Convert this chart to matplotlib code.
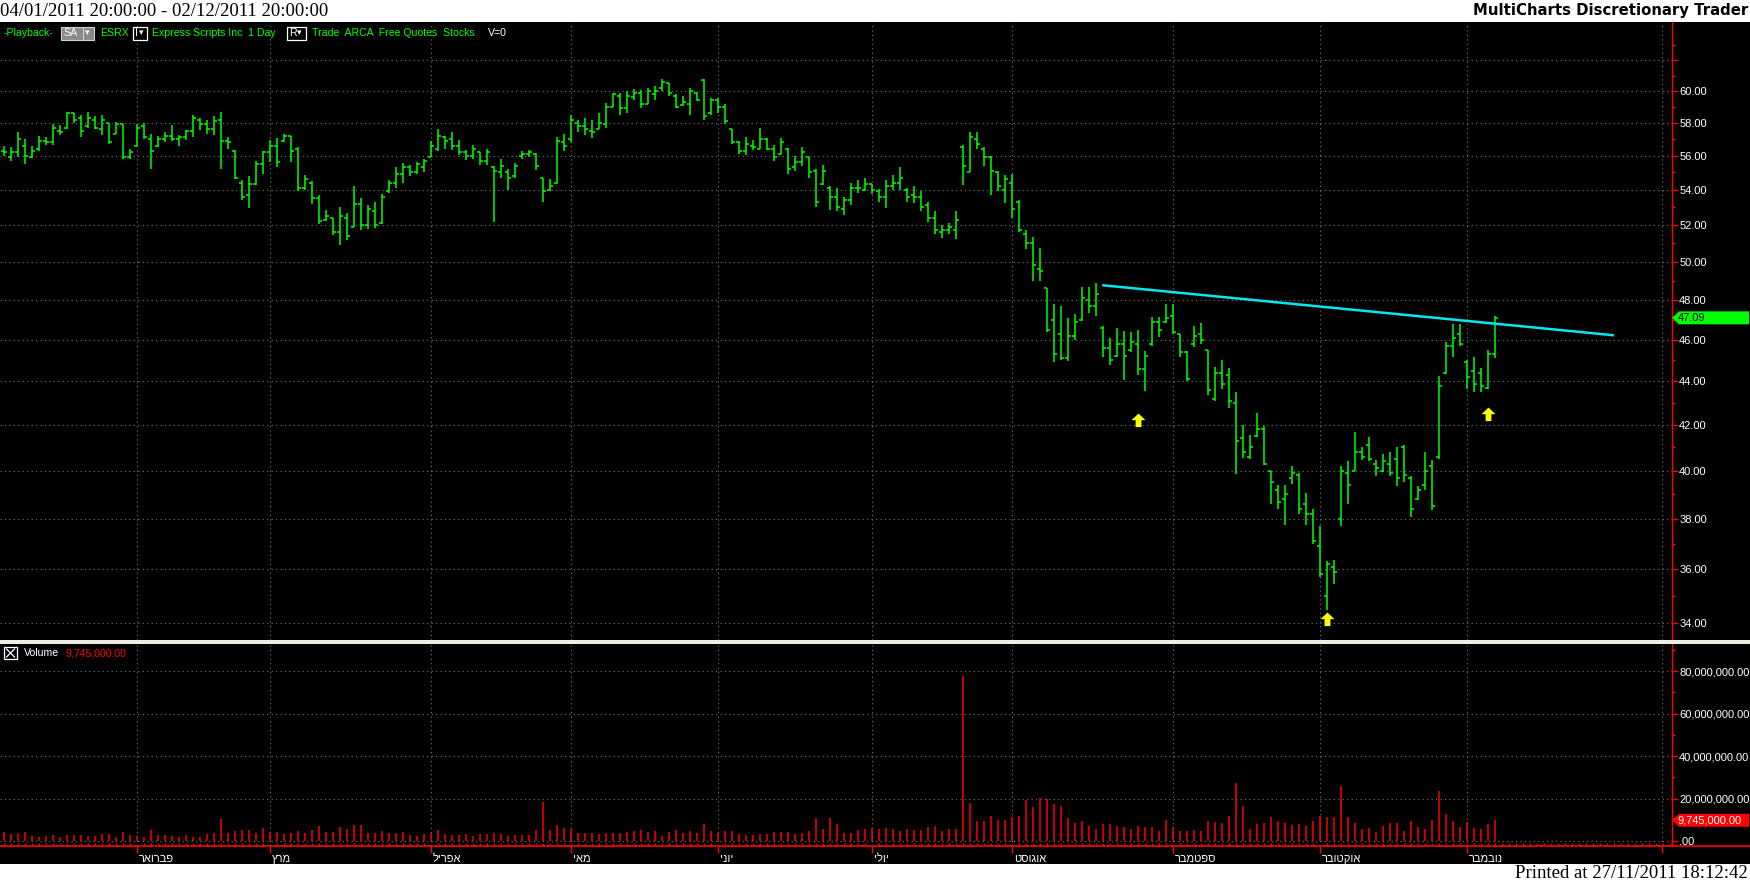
"""ESRX daily bars 2011 with volume pane, redrawn in the MultiCharts print layout."""

import numpy as np
import matplotlib
matplotlib.use("Agg")
import matplotlib.pyplot as plt
from matplotlib.patches import Rectangle, Polygon
from matplotlib.path import Path
from matplotlib.lines import Line2D
from matplotlib.ticker import FixedLocator, FuncFormatter, NullFormatter
from matplotlib.transforms import IdentityTransform, ScaledTranslation

plt.rcParams["font.family"] = ["Liberation Sans", "DejaVu Sans"]

W, H = 1750, 884

# --- daily bars, 04/01/2011 .. 07/11/2011 ---
highs = [
    56.6, 56.5, 57.4, 57.0, 56.6, 57.2, 57.1, 57.9, 57.85, 58.7,
    58.6, 58.5, 58.7, 58.4, 58.5, 58.0, 58.05, 57.9, 56.4, 57.9,
    58.0, 57.3, 57.2, 57.45, 57.85, 57.25, 57.55, 58.5, 58.3, 58.2,
    58.45, 58.7, 57.1, 56.35, 54.55, 54.8, 55.65, 56.25, 56.95, 57.05,
    57.3, 57.2, 56.5, 54.85, 54.5, 53.7, 52.85, 52.4, 53.0, 52.65,
    54.2, 53.5, 53.15, 53.3, 53.75, 54.55, 55.3, 55.55, 55.45, 55.6,
    55.8, 56.9, 57.6, 57.2, 57.4, 56.95, 56.35, 56.65, 56.2, 56.4,
    55.4, 55.8, 55.2, 55.55, 56.3, 56.35, 56.15, 54.7, 54.6, 57.1,
    57.3, 58.5, 58.2, 58.3, 58.15, 58.6, 59.25, 59.9, 59.9, 60.0,
    60.1, 60.05, 60.2, 60.35, 60.75, 60.5, 59.8, 59.65, 60.2, 59.95,
    60.8, 59.55, 59.55, 59.15, 57.6, 56.9, 57.1, 56.95, 57.7, 57.05,
    56.65, 57.05, 56.45, 56.0, 56.5, 55.9, 55.2, 55.45, 54.2, 54.1,
    53.6, 54.4, 54.55, 54.7, 54.3, 54.05, 54.55, 54.85, 55.3, 54.1,
    54.2, 53.9, 53.3, 52.8, 52.0, 52.1, 52.8, 56.65, 57.4, 57.4,
    56.5, 56.0, 55.1, 54.85, 54.9, 53.4, 51.7, 51.35, 50.75, 48.6,
    47.8, 47.7, 47.1, 47.3, 48.65, 48.65, 48.9, 46.7, 46.1, 46.6,
    46.45, 46.4, 46.5, 45.45, 47.15, 47.15, 47.8, 47.8, 46.3, 45.45,
    46.7, 46.85, 45.5, 44.7, 45.0, 44.65, 43.5, 42.0, 41.55, 42.55,
    41.95, 40.0, 39.4, 39.4, 40.2, 39.9, 39.05, 38.4, 37.7, 36.3,
    36.35, 40.2, 40.4, 41.7, 41.0, 41.45, 40.45, 40.7, 40.8, 41.0,
    41.1, 39.75, 39.35, 40.8, 40.45, 44.25, 45.9, 46.8, 46.8, 45.0,
    45.15, 44.65, 45.5, 47.2,
]
lows = [
    56.0, 55.7, 55.9, 55.5, 55.85, 56.3, 56.65, 56.65, 57.25, 57.6,
    58.0, 57.1, 57.7, 57.6, 57.25, 56.7, 57.3, 55.8, 55.8, 56.6,
    57.0, 55.2, 56.5, 56.8, 56.9, 56.6, 56.95, 57.1, 57.55, 57.3,
    57.25, 55.2, 56.4, 54.6, 53.4, 52.95, 54.25, 54.9, 55.6, 55.35,
    56.8, 55.6, 53.9, 54.0, 53.2, 52.05, 52.2, 51.45, 50.9, 51.2,
    51.9, 51.7, 51.8, 51.85, 52.05, 53.8, 54.1, 54.4, 54.8, 54.9,
    55.0, 55.9, 56.3, 56.4, 56.35, 56.05, 55.75, 55.8, 55.45, 55.45,
    52.15, 54.7, 54.0, 54.7, 55.8, 55.9, 55.15, 53.3, 53.9, 54.3,
    56.3, 56.85, 57.4, 57.25, 57.05, 57.6, 57.7, 59.0, 58.5, 58.6,
    59.4, 58.9, 59.15, 59.4, 60.0, 59.65, 58.9, 59.05, 58.5, 59.35,
    58.15, 58.5, 58.6, 57.9, 56.7, 56.1, 56.05, 56.35, 56.4, 56.35,
    55.65, 56.1, 54.9, 55.1, 55.4, 54.7, 53.0, 54.25, 52.85, 52.8,
    52.55, 53.15, 53.8, 53.9, 53.75, 53.3, 52.95, 54.0, 54.0, 53.3,
    53.25, 52.8, 52.15, 51.5, 51.3, 51.5, 51.25, 54.25, 55.0, 56.4,
    55.4, 53.7, 53.9, 53.25, 52.4, 51.6, 50.7, 49.0, 49.0, 46.4,
    44.9, 45.0, 44.95, 46.0, 46.95, 47.35, 47.2, 45.15, 44.8, 45.15,
    44.05, 45.4, 44.3, 43.55, 45.7, 46.15, 46.85, 46.3, 45.15, 44.0,
    45.65, 45.8, 43.35, 43.1, 43.65, 42.75, 39.85, 40.55, 40.5, 41.45,
    40.25, 38.6, 38.4, 37.75, 39.45, 38.2, 37.75, 37.0, 35.7, 34.45,
    35.45, 37.7, 38.6, 40.0, 40.45, 40.4, 39.75, 39.95, 39.75, 39.35,
    39.5, 38.05, 38.75, 39.2, 38.35, 40.5, 44.35, 45.15, 45.7, 43.65,
    43.5, 43.5, 43.65, 45.1,
]
opens = [
    56.3, 55.9, 56.2, 56.6, 55.9, 56.4, 56.9, 56.8, 57.5, 57.7,
    58.6, 58.3, 57.8, 58.2, 57.6, 58.0, 57.3, 57.9, 55.9, 56.6,
    57.8, 57.0, 56.6, 57.0, 57.2, 57.0, 57.1, 57.5, 58.2, 57.9,
    57.6, 58.2, 56.9, 56.3, 54.4, 53.7, 54.3, 55.5, 56.2, 56.6,
    56.9, 57.2, 56.4, 54.1, 54.4, 53.5, 52.3, 52.4, 51.6, 52.4,
    51.9, 53.2, 52.0, 52.8, 52.1, 53.9, 54.4, 54.9, 55.3, 55.0,
    55.3, 55.9, 56.4, 57.1, 57.0, 56.6, 56.2, 56.0, 56.2, 55.7,
    55.3, 55.0, 55.0, 54.8, 56.0, 56.1, 56.1, 54.7, 54.0, 54.4,
    56.8, 57.0, 58.0, 57.8, 57.5, 57.6, 57.9, 59.0, 59.7, 58.9,
    59.6, 59.9, 59.2, 59.8, 60.2, 60.5, 59.7, 59.1, 59.2, 59.9,
    60.7, 58.6, 59.4, 59.0, 57.6, 56.8, 56.3, 56.6, 56.4, 57.0,
    56.4, 56.1, 56.4, 55.3, 55.6, 55.9, 55.1, 54.3, 54.1, 53.6,
    52.9, 53.4, 54.1, 54.0, 54.3, 53.9, 53.6, 54.2, 54.4, 54.0,
    53.7, 53.6, 53.1, 52.4, 51.6, 51.7, 51.7, 56.5, 55.0, 57.0,
    56.4, 55.9, 55.0, 54.0, 54.4, 53.3, 51.5, 51.0, 49.6, 48.6,
    47.0, 46.3, 45.1, 46.2, 47.0, 48.0, 47.7, 46.6, 45.6, 45.2,
    45.8, 45.5, 45.8, 44.6, 45.8, 46.9, 46.9, 47.2, 46.3, 45.4,
    45.8, 46.3, 45.5, 43.2, 44.4, 44.3, 43.0, 41.4, 40.6, 41.5,
    41.8, 40.0, 39.2, 38.8, 39.7, 39.8, 38.6, 38.2, 36.9, 35.0,
    36.1, 38.0, 39.9, 40.0, 40.8, 41.1, 40.3, 40.0, 40.3, 40.5,
    41.0, 39.7, 38.8, 39.4, 40.2, 40.6, 44.4, 45.7, 46.3, 44.9,
    44.5, 44.4, 43.7, 45.3,
]
closes = [
    56.2, 56.2, 57.0, 56.0, 56.3, 56.9, 56.8, 57.7, 57.4, 58.6,
    58.2, 57.5, 58.3, 57.7, 58.2, 56.8, 57.9, 55.9, 56.2, 57.7,
    57.1, 56.3, 57.0, 57.2, 57.0, 57.1, 57.5, 58.3, 57.9, 57.6,
    58.1, 56.9, 56.8, 54.7, 53.6, 54.3, 55.5, 56.2, 56.6, 55.6,
    57.2, 56.3, 54.1, 54.6, 53.5, 52.2, 52.5, 51.6, 52.5, 51.4,
    53.2, 52.0, 52.9, 52.0, 53.6, 54.4, 54.9, 55.3, 55.0, 55.5,
    55.7, 56.6, 57.2, 56.9, 56.6, 56.2, 56.0, 56.4, 55.7, 56.2,
    55.1, 55.4, 54.7, 55.4, 56.1, 56.2, 55.4, 53.9, 54.2, 56.9,
    56.6, 58.2, 57.8, 57.6, 57.4, 58.0, 59.0, 59.8, 58.9, 59.7,
    59.9, 59.2, 60.0, 60.0, 60.6, 59.9, 59.0, 59.3, 60.0, 59.4,
    58.4, 59.4, 59.0, 58.1, 56.8, 56.3, 56.7, 56.5, 57.0, 56.4,
    55.9, 56.8, 55.2, 55.6, 56.2, 55.0, 53.3, 55.1, 53.6, 53.0,
    53.4, 54.1, 54.1, 54.3, 54.0, 53.6, 54.2, 54.4, 54.7, 53.6,
    53.6, 53.0, 52.4, 51.7, 51.7, 51.9, 52.3, 55.4, 57.1, 56.7,
    55.9, 55.1, 54.2, 54.6, 52.9, 51.7, 51.0, 49.8, 49.5, 46.5,
    45.3, 45.1, 46.2, 46.9, 48.1, 47.7, 48.3, 45.6, 45.0, 45.8,
    45.2, 45.9, 44.6, 45.2, 46.9, 46.5, 47.1, 46.4, 45.4, 44.1,
    46.2, 46.0, 43.6, 44.4, 43.9, 43.1, 41.3, 40.8, 41.0, 41.8,
    40.3, 39.5, 38.7, 39.0, 39.9, 38.4, 38.2, 37.1, 35.8, 36.2,
    35.9, 40.0, 39.4, 40.8, 40.6, 40.5, 40.1, 40.4, 39.9, 39.7,
    39.8, 38.4, 39.2, 40.0, 38.5, 43.8, 45.7, 46.1, 45.8, 44.2,
    43.9, 43.8, 45.3, 47.09,
]
# volume in millions of shares
volume_m = [
    4.4, 3.5, 3.9, 4.2, 2.4, 1.9, 2.4, 2.8, 1.7, 2.8,
    3.0, 2.8, 2.4, 2.4, 3.3, 3.3, 1.9, 4.2, 2.8, 2.5,
    1.9, 5.2, 2.8, 2.8, 2.4, 1.9, 2.8, 1.9, 1.9, 3.3,
    3.9, 10.4, 3.9, 4.7, 5.2, 5.2, 3.9, 6.1, 4.1, 4.2,
    3.3, 3.9, 4.7, 3.9, 5.2, 7.1, 4.2, 4.2, 6.6, 5.6,
    7.3, 7.6, 3.8, 3.9, 4.7, 3.9, 3.9, 4.4, 2.8, 2.5,
    3.5, 3.9, 5.3, 3.3, 2.8, 2.8, 3.1, 2.4, 3.5, 3.3,
    3.6, 3.1, 2.4, 2.9, 2.9, 2.9, 5.3, 18.5, 5.3, 7.7,
    6.0, 5.8, 3.6, 3.6, 3.6, 3.1, 3.6, 3.6, 3.6, 4.1,
    4.8, 5.3, 4.1, 4.8, 2.4, 4.1, 5.3, 3.6, 4.8, 3.6,
    7.9, 4.8, 3.6, 4.8, 4.8, 3.1, 2.9, 2.9, 3.1, 3.1,
    4.1, 4.1, 4.1, 3.1, 3.6, 4.8, 10.6, 5.5, 10.6, 8.2,
    3.6, 3.6, 5.3, 5.5, 6.0, 5.5, 6.0, 5.5, 4.8, 5.5,
    5.3, 5.3, 6.5, 7.0, 4.8, 5.5, 5.8, 77.7, 17.7, 9.6,
    9.6, 12.0, 10.1, 10.1, 11.3, 12.0, 19.2, 15.8, 20.1, 19.7,
    17.5, 16.5, 11.0, 8.6, 9.6, 7.0, 5.8, 8.2, 8.2, 7.2,
    6.7, 5.8, 7.2, 6.7, 6.7, 4.8, 10.1, 6.5, 4.8, 4.8,
    5.3, 4.8, 9.6, 9.1, 8.6, 12.0, 27.1, 16.5, 5.8, 8.2,
    8.6, 11.3, 9.6, 8.4, 7.7, 7.9, 7.2, 9.6, 12.0, 11.5,
    11.5, 25.9, 11.5, 8.6, 5.8, 6.2, 4.3, 7.0, 8.6, 8.4,
    4.8, 9.4, 6.7, 5.5, 10.1, 23.5, 12.9, 9.4, 6.7, 9.1,
    6.0, 5.5, 8.2, 9.745,
]

month_names = ["פברואר", "מרץ", "אפריל", "מאי", "יוני", "יולי",
               "אוגוסט", "ספטמבר", "אוקטובר", "נובמבר"]
month_start = [19, 38, 61, 81, 102, 124, 144, 167, 188, 209]   # bar index of 1st trading day
axis_end_tick = 236.9

price_ticks = list(range(34, 64, 2))
vol_ticks = [0, 20e6, 40e6, 60e6, 80e6]
vol_minor = [10e6, 30e6, 50e6, 70e6, 90e6]

trend_x = [156.9, 230.0]
trend_y = [48.76, 46.22]
arrow_x = [162, 189, 212]
arrow_y = [42.23, 34.13, 42.48]

last_price = closes[-1]
last_volume = volume_m[-1] * 1e6

x_range = (-0.57, 238.29)
price_range = (33.38, 64.59)
vol_range = (-2.35e6, 93.2e6)

GREEN = "#00ff00"
GRID = "#767676"
LBL = 8.0


def fx(x):
    return x / W


def fy(y):
    return 1 - y / H


fig = plt.figure(figsize=(W / 100, H / 100), dpi=100, facecolor="white")
fig.add_artist(Rectangle((0, fy(864)), 1, (864 - 22) / H, transform=fig.transFigure,
                         facecolor="black", edgecolor="none", zorder=-5))

ax = fig.add_axes([0, fy(640), 1672 / W, (640 - 22) / H])
axv = fig.add_axes([0, fy(846), 1672 / W, (846 - 643) / H])

for a in (ax, axv):
    a.set_facecolor("black")
    a.set_xlim(*x_range)
    for s in ("top", "left", "bottom"):
        a.spines[s].set_visible(False)
    a.spines["right"].set_color("red")
    a.spines["right"].set_linewidth(1.0)
    a.yaxis.tick_right()
    a.set_xticks(month_start + [axis_end_tick])
    a.grid(True, which="major", color=GRID, linestyle=(0, (1, 3)), linewidth=0.8)
    a.set_axisbelow(True)

# price pane
ax.set_yscale("log")
ax.set_ylim(*price_range)
ax.yaxis.set_major_locator(FixedLocator(price_ticks))
ax.yaxis.set_major_formatter(FuncFormatter(lambda v, p: "" if v > 61 else f"{v:.2f}"))
ax.yaxis.set_minor_locator(FixedLocator([t + 1 for t in price_ticks]))
ax.yaxis.set_minor_formatter(NullFormatter())
ax.tick_params(axis="x", length=0, labelbottom=False)

idx = np.arange(len(closes))
ax.vlines(idx, lows, highs, color=GREEN, linewidth=1.1)
ax.hlines(opens, idx - 0.45, idx, color=GREEN, linewidth=1.1)
ax.hlines(closes, idx, idx + 0.45, color=GREEN, linewidth=1.1)
ax.plot(trend_x, trend_y, color="#00e8f0", linewidth=1.8, solid_capstyle="butt")

arrow = Path([(-1, 0.05), (0, 1), (1, 0.05), (0.42, 0.05), (0.42, -0.95),
              (-0.42, -0.95), (-0.42, 0.05), (-1, 0.05)], closed=True)
ax.plot(arrow_x, arrow_y, linestyle="none", marker=arrow, markersize=10,
        color="yellow", markeredgewidth=0)

# volume pane
axv.vlines(idx, 0, np.array(volume_m) * 1e6, color="red", linewidth=1.1)
axv.set_ylim(*vol_range)
axv.yaxis.set_major_locator(FixedLocator(vol_ticks))
axv.yaxis.set_major_formatter(FuncFormatter(lambda v, p: ".00" if v == 0 else f"{v:,.2f}"))
axv.yaxis.set_minor_locator(FixedLocator(vol_minor))
axv.yaxis.set_minor_formatter(NullFormatter())
axv.spines["bottom"].set_visible(True)
axv.spines["bottom"].set_color("red")
axv.spines["bottom"].set_linewidth(1.2)
axv.set_xticklabels([m[::-1] for m in month_names] + [""])   # RTL display order
axv.xaxis.set_minor_locator(FixedLocator(np.arange(0, 239)))
axv.tick_params(axis="x", which="major", colors="red", labelcolor="white", length=5,
                width=1, direction="out", labelsize=LBL, pad=1)
axv.tick_params(axis="x", which="minor", colors="red", length=2.5, width=0.8, direction="in")
for lab in axv.get_xticklabels():
    lab.set_horizontalalignment("left")
    lab.set_transform(lab.get_transform() + ScaledTranslation(1.5 / 72, 0, fig.dpi_scale_trans))

for a in (ax, axv):
    a.tick_params(axis="y", which="both", colors="red", labelcolor="white",
                  labelsize=LBL, direction="out", pad=1.2)
    a.tick_params(axis="y", which="major", length=4, width=1)
    a.tick_params(axis="y", which="minor", length=2, width=1)


def tag(a, value, text, face, txtcolor):
    yd = a.transData.transform((0, value))[1]
    pts = [(1672, yd), (1679, yd + 6.5), (1749, yd + 6.5), (1749, yd - 6.5), (1679, yd - 6.5)]
    fig.add_artist(Polygon(pts, closed=True, transform=IdentityTransform(),
                           facecolor=face, edgecolor="none", zorder=6))
    fig.text(fx(1678), yd / H, text, color=txtcolor, fontsize=LBL, va="center", ha="left", zorder=7)


tag(ax, last_price, f"{last_price:.2f}", GREEN, "black")
tag(axv, last_volume, f"{last_volume:,.2f}", "red", "white")

# pane separator and bottom-line run-out
fig.add_artist(Rectangle((0, fy(644)), 1, 4 / H, transform=fig.transFigure,
                         facecolor="#eeeee6", edgecolor="none", zorder=5))
fig.add_artist(Line2D([fx(1672), 1], [fy(846), fy(846)], transform=fig.transFigure,
                      color="red", linewidth=1.2, zorder=5))

# header / footer
fig.text(0.0, fy(11), "04/01/2011 20:00:00 - 02/12/2011 20:00:00", family="Liberation Serif",
         fontsize=13.5, ha="left", va="center")
fig.text(fx(1748), fy(11), "MultiCharts Discretionary Trader", family="DejaVu Sans",
         weight="bold", fontsize=10.7, ha="right", va="center")
fig.text(fx(1748), fy(874), "Printed at 27/11/2011 18:12:42", family="Liberation Serif",
         fontsize=13.5, ha="right", va="center")

# symbol toolbar
ty = fy(33)
kw = dict(fontsize=7.6, va="center", ha="left", zorder=8)
fig.add_artist(Rectangle((fx(61), fy(40)), 33 / W, 13 / H, transform=fig.transFigure,
                         facecolor="#8a8a8a", edgecolor="#d0d0d0", linewidth=0.8, zorder=7))
fig.add_artist(Line2D([fx(83), fx(83)], [fy(40), fy(27)], transform=fig.transFigure,
                      color="#d0d0d0", linewidth=0.8, zorder=8))
for x0, x1 in ((133, 147), (287, 306)):
    fig.add_artist(Rectangle((fx(x0), fy(40)), (x1 - x0) / W, 13 / H, transform=fig.transFigure,
                             facecolor="black", edgecolor="white", linewidth=0.9, zorder=7))
fig.text(fx(4), ty, "-Playback-", color=GREEN, **kw)
fig.text(fx(63), ty, "SA", color="white", **kw)
fig.text(fx(85), ty, "▾", color="white", family="DejaVu Sans", fontsize=6.5, va="center", ha="left", zorder=8)
fig.text(fx(100), ty, "ESRX", color=GREEN, **kw)
fig.text(fx(135), ty, "I", color="white", **kw)
fig.text(fx(139), ty, "▾", color="white", family="DejaVu Sans", fontsize=6.5, va="center", ha="left", zorder=8)
fig.text(fx(152), ty, "Express Scripts Inc  1 Day", color=GREEN, **kw)
fig.text(fx(289), ty, "R", color="white", **kw)
fig.text(fx(297), ty, "▾", color="white", family="DejaVu Sans", fontsize=6.5, va="center", ha="left", zorder=8)
fig.text(fx(312), ty, "Trade  ARCA  Free Quotes  Stocks", color=GREEN, **kw)
fig.text(fx(488), ty, "V=0", color="white", **kw)

# volume pane header
fig.add_artist(Rectangle((fx(4), fy(659)), 13 / W, 12 / H, transform=fig.transFigure,
                         facecolor="black", edgecolor="white", linewidth=0.9, zorder=7))
fig.add_artist(Line2D([fx(6.5), fx(14.5)], [fy(657), fy(649)], transform=fig.transFigure,
                      color="white", linewidth=0.9, zorder=8))
fig.add_artist(Line2D([fx(6.5), fx(14.5)], [fy(649), fy(657)], transform=fig.transFigure,
                      color="white", linewidth=0.9, zorder=8))
fig.text(fx(24), fy(653), "Volume", color="white", **kw)
fig.text(fx(66), fy(653), f"{last_volume:,.2f}", color="red", **kw)

fig.savefig("out.png", dpi=100, facecolor="white")
